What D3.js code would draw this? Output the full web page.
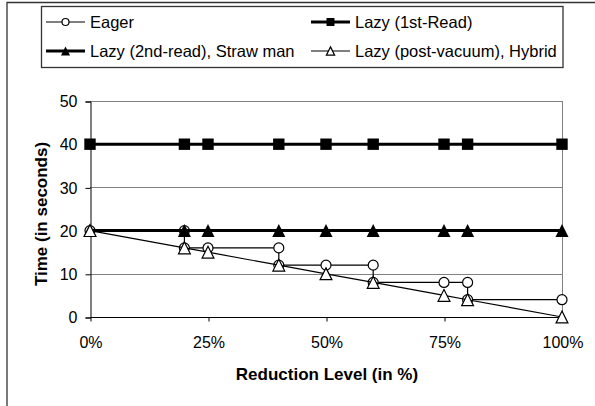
<!DOCTYPE html>
<html><head><meta charset="utf-8">
<script src="https://cdn.jsdelivr.net/npm/d3@7/dist/d3.min.js"></script>
<style>body{margin:0;background:#fff}svg{display:block}text{font-family:"Liberation Sans",Arial,sans-serif}</style>
</head><body><svg id="c" width="595" height="406"></svg>
<script>
const xLevels = [0, 20, 25, 40, 50, 60, 75, 80, 100];
const lazyFirst = [40, 40, 40, 40, 40, 40, 40, 40, 40];
const lazySecond = [20, 20, 20, 20, 20, 20, 20, 20, 20];
const hybrid = [20, 16, 15, 12, 10, 8, 5, 4, 0];
// Eager is a step function
const eagerX = [0, 20, 20, 25, 40, 40, 50, 60, 60, 75, 80, 80, 100];
const eagerY = [20, 20, 16, 16, 16, 12, 12, 12, 8, 8, 8, 4, 4];
const yTicks = [0, 10, 20, 30, 40, 50];
const xTicks = [0, 25, 50, 75, 100];
const legendLabels = ["Eager", "Lazy (1st-Read)", "Lazy (2nd-read), Straw man", "Lazy (post-vacuum), Hybrid"];

const svg = d3.select("#c");
const L = 90, R = 562, T = 101, B = 317;
const x = d3.scaleLinear().domain([0, 100]).range([L, R]);
const y = d3.scaleLinear().domain([0, 50]).range([B, T]);

// outer frame
svg.append("path").attr("d", "M7,406 V2.5 H600").attr("fill", "none").attr("stroke", "#333").attr("stroke-width", 1.3);

// gridlines
svg.append("g").selectAll("line").data(yTicks.filter(d => d > 0)).join("line")
  .attr("x1", L).attr("x2", R).attr("y1", d => Math.round(y(d)) + 0.5).attr("y2", d => Math.round(y(d)) + 0.5)
  .attr("stroke", "#808080").attr("stroke-width", 1);
svg.append("line").attr("x1", R + 0.5).attr("x2", R + 0.5).attr("y1", T).attr("y2", B).attr("stroke", "#808080");

// axes
const yAxis = svg.append("g").attr("transform", `translate(${L + 0.5},0.5)`)
  .call(d3.axisLeft(y).tickValues(yTicks).tickSize(5).tickPadding(8).tickFormat(d3.format("d")));
const xAxis = svg.append("g").attr("transform", `translate(0.5,${B + 0.5})`)
  .call(d3.axisBottom(x).tickValues(xTicks).tickSize(4).tickPadding(10).tickFormat(d => d + "%"));
[yAxis, xAxis].forEach(a => {
  a.select(".domain").attr("stroke", "#000");
  a.selectAll(".tick line").attr("stroke", "#000");
  a.selectAll("text").attr("font-size", 16).attr("fill", "#000").attr("font-family", '"Liberation Sans",Arial,sans-serif');
});
xAxis.select(".domain").attr("d", `M${L},0H${R}`);
xAxis.selectAll("text").attr("y", 30).attr("dy", 0);

// axis titles
svg.append("text").attr("x", 327).attr("y", 380).attr("text-anchor", "middle")
  .attr("font-size", 17).attr("font-weight", "bold").text("Reduction Level (in %)");
svg.append("text").attr("transform", "translate(47,214) rotate(-90)").attr("text-anchor", "middle")
  .attr("font-size", 17).attr("font-weight", "bold").text("Time (in seconds)");

// custom isosceles triangle symbol (size = side^2)
const triType = { draw(ctx, size) { const h = Math.sqrt(size); ctx.moveTo(0, -h / 2); ctx.lineTo(h / 2, h / 2); ctx.lineTo(-h / 2, h / 2); ctx.closePath(); } };
const line = d3.line().x(d => x(d[0])).y(d => y(d[1]));

function marker(g, kind, cx, cy, scale) {
  if (kind === "circle") {
    g.append("circle").attr("cx", cx).attr("cy", cy).attr("r", 5 * scale).attr("fill", "#fff").attr("stroke", "#000").attr("stroke-width", 1.2);
  } else if (kind === "square") {
    g.append("path").attr("d", d3.symbol().type(d3.symbolSquare).size(130 * scale * scale)()).attr("transform", `translate(${cx},${cy})`).attr("fill", "#000");
  } else if (kind === "tri") {
    g.append("path").attr("d", d3.symbol().type(triType).size(170 * scale * scale)()).attr("transform", `translate(${cx},${cy})`).attr("fill", "#000");
  } else {
    g.append("path").attr("d", d3.symbol().type(triType).size(140 * scale * scale)()).attr("transform", `translate(${cx},${cy})`).attr("fill", "#fff").attr("stroke", "#000").attr("stroke-width", 1.2);
  }
}

const eagerPts = eagerX.map((v, i) => [v, eagerY[i]]);
const firstPts = xLevels.map((v, i) => [v, lazyFirst[i]]);
const secondPts = xLevels.map((v, i) => [v, lazySecond[i]]);
const hybPts = xLevels.map((v, i) => [v, hybrid[i]]);

const series = [
  { pts: eagerPts, kind: "circle", w: 1.2 },
  { pts: firstPts, kind: "square", w: 3 },
  { pts: secondPts, kind: "tri", w: 3 },
  { pts: hybPts, kind: "otri", w: 1.2 }
];
series.forEach(s => {
  svg.append("path").datum(s.pts).attr("d", line).attr("fill", "none").attr("stroke", "#000").attr("stroke-width", s.w);
  const g = svg.append("g");
  s.pts.forEach(p => marker(g, s.kind, x(p[0]), y(p[1]), 1));
});

// legend
svg.append("rect").attr("x", 41.5).attr("y", 6.5).attr("width", 521.5).attr("height", 61)
  .attr("fill", "#fff").attr("stroke", "#333").attr("stroke-width", 1.3);
const legendPos = [[46, 22], [311, 22], [46, 51], [311, 51]];
const lg = svg.append("g");
legendLabels.forEach((lab, i) => {
  const [lx, ly] = legendPos[i];
  const s = series[i];
  const w = 39;
  lg.append("line").attr("x1", lx).attr("x2", lx + w).attr("y1", ly).attr("y2", ly).attr("stroke", "#000").attr("stroke-width", s.w);
  marker(lg, s.kind, lx + w / 2, ly, 0.7);
  lg.append("text").attr("x", lx + w + 5).attr("y", ly).attr("dy", "0.35em").attr("font-size", 16.5).text(lab);
});
</script></body></html>
